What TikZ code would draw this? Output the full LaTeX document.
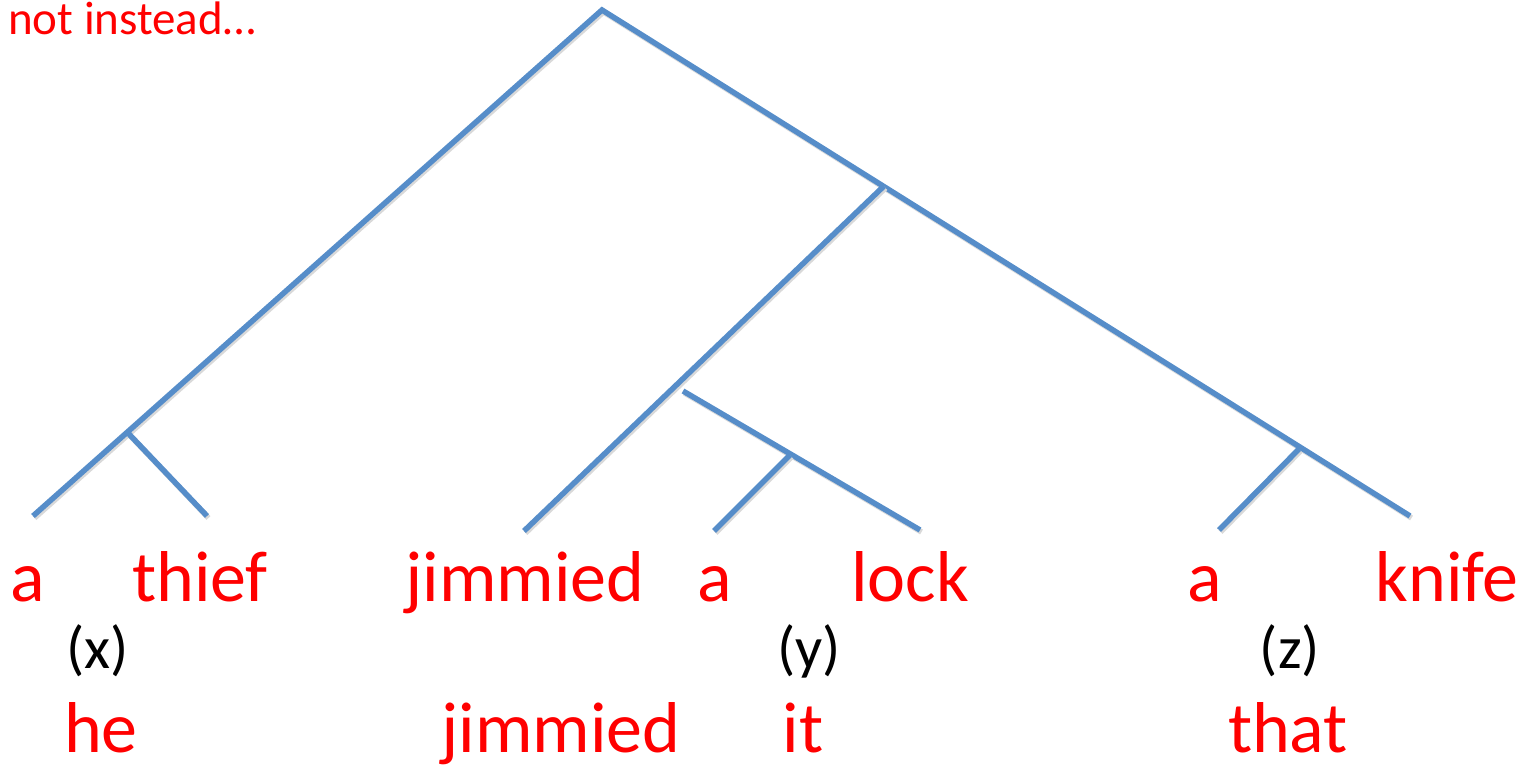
\documentclass[tikz,border=0pt]{standalone}
\usepackage{fontspec}
\setmainfont{Carlito}
\usetikzlibrary{positioning}
\definecolor{branchblue}{RGB}{86,141,201}
\definecolor{wordred}{RGB}{255,0,0}

\begin{document}
\begin{tikzpicture}[
  x=1pt, y=-1pt,
  branch/.style={draw=branchblue, line width=5.5pt, line join=miter,
    preaction={draw=black!15, line width=5.5pt, transform canvas={shift={(1.5pt,-2pt)}}}},
  word/.style={anchor=base, inner sep=0pt, text=wordred, font=\fontsize{72}{80}\selectfont},
  var/.style={anchor=base, inner sep=0pt, text=black, font=\fontsize{60}{66}\selectfont},
  note/.style={anchor=base west, inner sep=0pt, text=wordred, font=\fontsize{47}{52}\selectfont}
]
\useasboundingbox (0,0) rectangle (1526,767);

\node[note] (title) at (8,35) {not instead…};

% tree points
\coordinate (top) at (602,10);
\coordinate (subj) at (128,433);
\coordinate (pred) at (884,186);
\coordinate (vp) at (683,391);
\coordinate (obj) at (790,455);
\coordinate (inst) at (1299,449);

\coordinate (end-a1) at (33,516);
\coordinate (end-thief) at (207,516);
\coordinate (end-jimmied) at (524,531);
\coordinate (end-a2) at (714,531);
\coordinate (end-lock) at (920,530);
\coordinate (end-a3) at (1219,530);
\coordinate (end-knife) at (1410,516);

\draw[branch] (end-a1) -- (top) -- (end-knife);
\draw[branch] (subj) -- (end-thief);
\draw[branch] (pred) -- (end-jimmied);
\draw[branch] (vp) -- (end-lock);
\draw[branch] (obj) -- (end-a2);
\draw[branch] (inst) -- (end-a3);

% words
\node[word] (a1) at (28,601) {a};
\node[word] (thief) at (200,601) {thief};
\node[word] (jimmied1) at (525,601) {jimmied};
\node[word] (a2) at (715,601) {a};
\node[word] (lock) at (910,601) {lock};
\node[word] (a3) at (1205,601) {a};
\node[word] (knife) at (1447,601) {knife};

\node[var] (x) at (98,668) {(x)};
\node[var] (y) at (809,668) {(y)};
\node[var] (z) at (1290,668) {(z)};

\node[word] (he) at (101,752) {he};
\node[word] (jimmied2) at (561,752) {jimmied};
\node[word] (it) at (803,752) {it};
\node[word] (that) at (1288,752) {that};

\end{tikzpicture}
\end{document}
